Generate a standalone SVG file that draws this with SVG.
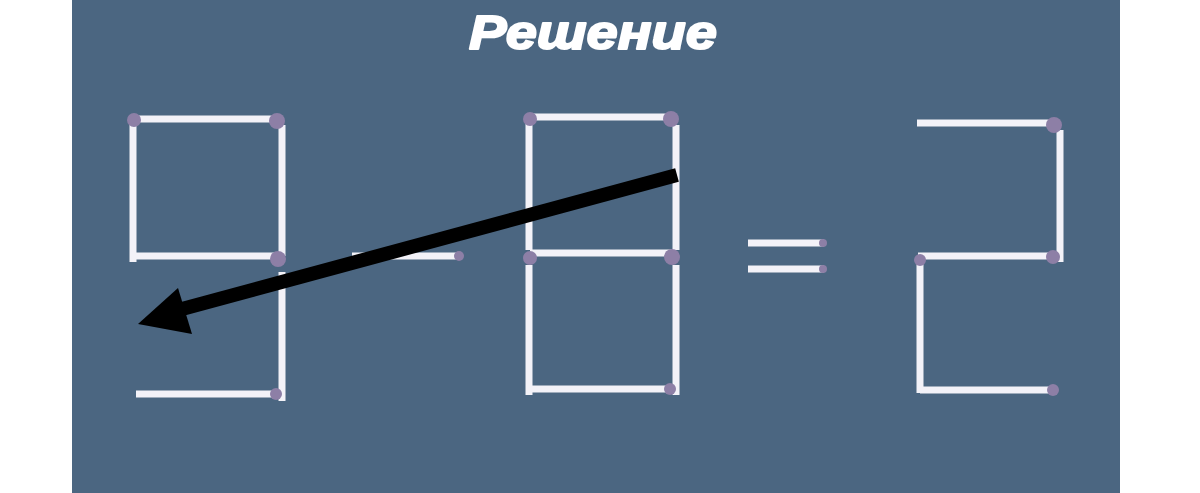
<svg xmlns="http://www.w3.org/2000/svg" width="1200" height="493" viewBox="0 0 1200 493">
<style>
.m{stroke:#f3f2f8;stroke-width:7;stroke-linecap:butt}
.h{fill:#8d7fa6}
.t{font-family:"Liberation Sans",Arial,sans-serif;font-weight:bold;font-style:italic;fill:#ffffff;stroke:#ffffff;stroke-width:2;stroke-linejoin:round}
</style>
<rect x="0" y="0" width="1200" height="493" fill="#ffffff"/>
<rect x="72" y="0" width="1048" height="493" fill="#4b6681"/>
<text class="t" x="593" y="49" font-size="48" text-anchor="middle" textLength="248" lengthAdjust="spacingAndGlyphs">Решение</text>
<g id="digit9">
<line class="m" x1="135" y1="119" x2="278" y2="119"/>
<line class="m" x1="133" y1="122" x2="133" y2="262"/>
<line class="m" x1="135" y1="256" x2="278" y2="256"/>
<line class="m" x1="282" y1="125" x2="282" y2="256"/>
<line class="m" x1="282" y1="272" x2="282" y2="401"/>
<line class="m" x1="136" y1="394" x2="278" y2="394"/>
<circle class="h" cx="134" cy="120" r="7"/>
<circle class="h" cx="277" cy="121" r="8"/>
<circle class="h" cx="278" cy="259" r="8"/>
<circle class="h" cx="276" cy="394" r="6"/>
</g>
<g id="minus">
<line class="m" x1="352" y1="256" x2="460" y2="256" stroke-width="6"/>
<circle class="h" cx="459" cy="256" r="5"/>
</g>
<g id="digit8">
<line class="m" x1="530" y1="117" x2="674" y2="117"/>
<line class="m" x1="529" y1="122" x2="529" y2="250"/>
<line class="m" x1="676" y1="125" x2="676" y2="250"/>
<line class="m" x1="530" y1="253" x2="674" y2="253"/>
<line class="m" x1="529" y1="265" x2="529" y2="395"/>
<line class="m" x1="676" y1="265" x2="676" y2="395"/>
<line class="m" x1="530" y1="389" x2="672" y2="389"/>
<circle class="h" cx="530" cy="119" r="7"/>
<circle class="h" cx="671" cy="119" r="8"/>
<circle class="h" cx="530" cy="258" r="7"/>
<circle class="h" cx="672" cy="257" r="8"/>
<circle class="h" cx="670" cy="389" r="6"/>
</g>
<g id="equals">
<line class="m" x1="748" y1="243" x2="824" y2="243" stroke-width="5"/>
<line class="m" x1="748" y1="269" x2="824" y2="269" stroke-width="5"/>
<circle class="h" cx="823" cy="243" r="4"/>
<circle class="h" cx="823" cy="269" r="4"/>
</g>
<g id="digit2">
<line class="m" x1="917" y1="123" x2="1056" y2="123"/>
<line class="m" x1="1060" y1="130" x2="1060" y2="262"/>
<line class="m" x1="918" y1="256" x2="1058" y2="256"/>
<line class="m" x1="920" y1="262" x2="920" y2="393"/>
<line class="m" x1="920" y1="390" x2="1056" y2="390"/>
<circle class="h" cx="1054" cy="125" r="8"/>
<circle class="h" cx="920" cy="260" r="6"/>
<circle class="h" cx="1053" cy="257" r="7"/>
<circle class="h" cx="1053" cy="390" r="6"/>
</g>
<g id="connectors">
<line x1="677" y1="175" x2="182" y2="309" stroke="#000000" stroke-width="14"/>
<polygon points="138,324 178,288 192,334" fill="#000000"/>
</g>
</svg>
